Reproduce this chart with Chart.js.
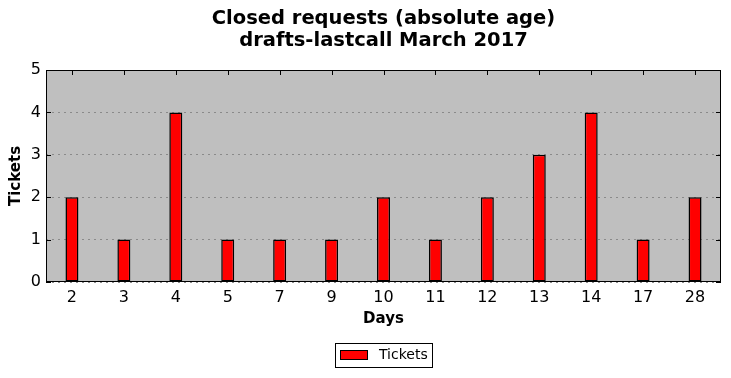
<!DOCTYPE html>
<html>
<head>
<meta charset="utf-8">
<script src="https://cdn.jsdelivr.net/npm/chart.js@4/dist/chart.umd.min.js"></script>
<style>
  html, body { margin: 0; padding: 0; background: #ffffff; }
  #wrap { width: 731px; height: 378px; }
</style>
</head>
<body>
<div id="wrap"><canvas id="chart" width="731" height="378"></canvas></div>
<script>
// chart data
const days = ['2', '3', '4', '5', '7', '9', '10', '11', '12', '13', '14', '17', '28'];
const tickets = [2, 1, 4, 1, 1, 1, 2, 1, 2, 3, 4, 1, 2];
const titleLines = ['Closed requests (absolute age)', 'drafts-lastcall March 2017'];
const xLabel = 'Days';
const yLabel = 'Tickets';
const seriesName = 'Tickets';

const FONT = "'DejaVu Sans', sans-serif";

// background, frame, inward ticks, titles and legend
const decor = {
    id: 'decor',
    beforeDraw(chart) {
        const a = chart.chartArea;
        const ctx = chart.ctx;
        ctx.save();
        ctx.fillStyle = '#bfbfbf';
        ctx.fillRect(a.left, a.top, a.right - a.left, a.bottom - a.top);
        ctx.restore();
    },
    beforeDatasetsDraw(chart) {
        // inward ticks, under the bars
        const a = chart.chartArea;
        const ctx = chart.ctx;
        const xs = chart.scales.x;
        const ys = chart.scales.y;
        ctx.save();
        ctx.strokeStyle = '#000';
        ctx.lineWidth = 1;
        ctx.beginPath();
        xs.ticks.forEach((t, i) => {
            const x = Math.round(xs.getPixelForTick(i)) + 0.5;
            ctx.moveTo(x, a.top); ctx.lineTo(x, a.top + 5);
            ctx.moveTo(x, a.bottom); ctx.lineTo(x, a.bottom - 5);
        });
        ys.ticks.forEach((t, i) => {
            const y = Math.round(ys.getPixelForTick(i)) + 0.5;
            ctx.moveTo(a.left, y); ctx.lineTo(a.left + 5, y);
            ctx.moveTo(a.right, y); ctx.lineTo(a.right - 5, y);
        });
        ctx.stroke();
        ctx.restore();
    },
    afterDraw(chart) {
        const a = chart.chartArea;
        const ctx = chart.ctx;
        ctx.save();
        // frame
        ctx.strokeStyle = '#000';
        ctx.lineWidth = 1;
        ctx.strokeRect(a.left + 0.5, a.top + 0.5, a.right - a.left - 1, a.bottom - a.top - 1);

        const cx = (a.left + a.right) / 2;
        ctx.fillStyle = '#000';
        ctx.textAlign = 'center';
        ctx.textBaseline = 'middle';
        // title
        ctx.font = 'bold 19.5px ' + FONT;
        ctx.fillText(titleLines[0], cx, 19);
        ctx.fillText(titleLines[1], cx, 41);
        // axis titles
        ctx.font = 'bold 15px ' + FONT;
        ctx.fillText(xLabel, cx, 319);
        ctx.save();
        ctx.translate(16, (a.top + a.bottom) / 2);
        ctx.rotate(-Math.PI / 2);
        ctx.fillText(yLabel, 0, 0);
        ctx.restore();
        // legend
        ctx.fillStyle = '#fff';
        ctx.fillRect(335.5, 343.5, 97, 24);
        ctx.strokeRect(335.5, 343.5, 97, 24);
        ctx.fillStyle = '#ff0000';
        ctx.fillRect(340.5, 350.5, 27, 9);
        ctx.strokeRect(340.5, 350.5, 27, 9);
        ctx.fillStyle = '#000';
        ctx.textAlign = 'left';
        ctx.font = '14px ' + FONT;
        ctx.fillText(seriesName, 379, 355);
        ctx.restore();
    }
};

new Chart(document.getElementById('chart'), {
    type: 'bar',
    data: {
        labels: days,
        datasets: [{
            label: seriesName,
            data: tickets,
            backgroundColor: '#ff0000',
            borderColor: '#000000',
            borderWidth: 1.5,
            borderSkipped: false,
            categoryPercentage: 1,
            barPercentage: 0.25
        }]
    },
    options: {
        responsive: false,
        animation: false,
        layout: { padding: { top: 70, right: 10, left: 0, bottom: 0 } },
        plugins: {
            legend: { display: false },
            title: { display: false },
            tooltip: { enabled: false }
        },
        scales: {
            x: {
                afterFit(scale) { scale.height = 96; },
                grid: { display: false, drawTicks: false },
                border: { display: false },
                ticks: {
                    color: '#000',
                    padding: 6,
                    maxRotation: 0,
                    font: { family: FONT, size: 16 }
                }
            },
            y: {
                min: 0,
                max: 5,
                afterFit(scale) { scale.width = 46; },
                grid: {
                    color: '#8a8a8a',
                    drawTicks: false
                },
                border: { display: false, dash: [2, 4] },
                ticks: {
                    stepSize: 1,
                    color: '#000',
                    padding: 5,
                    font: { family: FONT, size: 16 }
                }
            }
        }
    },
    plugins: [decor]
});
</script>
</body>
</html>
